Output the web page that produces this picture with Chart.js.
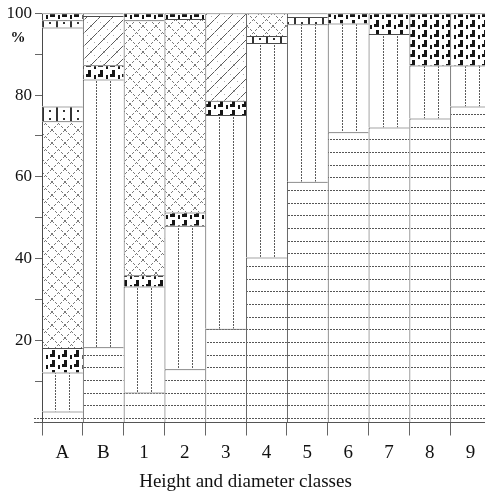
<!DOCTYPE html>
<html>
<head>
<meta charset="utf-8">
<script src="https://cdn.jsdelivr.net/npm/chart.js@4/dist/chart.umd.min.js"></script>
<style>
  html, body { margin: 0; padding: 0; background: #fff; overflow: hidden; }
  #wrap { width: 491px; height: 497px; position: relative; }
</style>
</head>
<body>
<div id="wrap"><canvas id="c"></canvas></div>
<script>
// Height and diameter classes on the x axis
const classes = ['A', 'B', '1', '2', '3', '4', '5', '6', '7', '8', '9'];

// Percentage shares per class, listed from the bottom of each column upwards
const hLines     = [2.7, 18.4, 7.3, 13.0, 22.9, 40.3, 58.8, 70.9, 72.1, 74.3, 77.2];
const vLines     = [9.5, 65.4, 25.9, 35.1, 52.2, 52.4, 38.5, 26.6, 22.8, 12.9, 10.0];
const hooksLow   = [6.0, 3.5, 2.8, 3.2, 3.5, null, null, null, null, null, null];
const crossLow   = [55.4, null, 62.3, 47.3, null, null, null, null, null, null, null];
const diagonal   = [null, 12.0, null, null, 21.4, null, null, null, null, null, null];
const squaresLow = [3.6, null, null, null, null, 1.7, 1.8, null, null, null, null];
const blank      = [19.3, 0.7, null, null, null, null, 0.9, null, null, null, null];
const squaresTop = [1.8, null, null, null, null, null, null, null, null, null, null];
const crossTop   = [null, null, null, null, null, 5.6, null, null, null, null, null];
const hooksTop   = [1.7, null, 1.7, 1.4, null, null, null, 2.5, 5.1, 12.8, 12.8];

// y axis ticks
const yMin = 0, yMax = 100, yStep = 10, yLabelStep = 20;

const SERIF = "'Liberation Serif', 'DejaVu Serif', serif";

function makeTile(w, h, draw) {
  const cv = document.createElement('canvas');
  cv.width = w; cv.height = h;
  const g = cv.getContext('2d');
  g.fillStyle = '#fff';
  g.fillRect(0, 0, w, h);
  draw(g);
  return document.createElement('canvas').getContext('2d').createPattern(cv, 'repeat');
}

// dotted horizontal rules
const patH = makeTile(3, 38, g => {
  g.fillStyle = '#555';
  [0, 13, 25].forEach(y => g.fillRect(0, y, 2, 1));
});
// dotted vertical rules
const patV = makeTile(41, 3, g => {
  g.fillStyle = '#5a5a5a';
  [14, 28].forEach(x => g.fillRect(x, 0, 1, 2));
});
// dotted cross hatching
const patX = makeTile(13, 13, g => {
  g.fillStyle = '#7a7a7a';
  for (let i = 0; i < 13; i++) {
    if (i % 3 === 2) continue;
    g.fillRect(i, i, 1, 1);
    g.fillRect(12 - i, i, 1, 1);
  }
});
// single diagonal hatching with faint back-dots
const patD = makeTile(13, 13, g => {
  g.fillStyle = '#5a5a5a';
  for (let i = 0; i < 13; i++) g.fillRect(12 - i, i, 1, 1);
  g.fillStyle = '#b0b0b0';
  for (let i = 0; i < 13; i += 3) g.fillRect(i, i, 1, 1);
});
// black staggered hooks
const patK = makeTile(12, 10, g => {
  g.fillStyle = '#151515';
  g.fillRect(4, 0, 3, 5);
  g.fillRect(2, 4, 5, 3);
  g.fillRect(10, 5, 2, 4);
});
// small open squares
const patS = makeTile(14, 8, g => {
  g.fillStyle = '#333';
  g.fillRect(0, 0, 2, 8);
  g.fillRect(7, 6, 2, 2);
});

function layer(label, data, fill) {
  return {
    label, data,
    backgroundColor: fill,
    borderColor: '#4a4a4a',
    borderWidth: { left: 1, top: 1, right: 0, bottom: 0 },
    borderSkipped: false,
    inflateAmount: 0,
    categoryPercentage: 1.0,
    barPercentage: 1.0
  };
}

const extras = {
  id: 'extras',
  afterDraw(chart) {
    const ctx = chart.ctx;
    const ca = chart.chartArea;
    const y = chart.scales.y;
    ctx.save();
    // baseline rules running a little past the left edge
    ctx.strokeStyle = '#555';
    ctx.lineWidth = 1;
    ctx.setLineDash([2, 1]);
    ctx.beginPath();
    ctx.moveTo(ca.left - 8, Math.round(ca.bottom) - 0.5);
    ctx.lineTo(ca.right, Math.round(ca.bottom) - 0.5);
    ctx.moveTo(ca.left - 8, Math.round(ca.bottom) - 4.5);
    ctx.lineTo(ca.left, Math.round(ca.bottom) - 4.5);
    ctx.stroke();
    ctx.setLineDash([]);
    // unit sign under the top tick label
    ctx.fillStyle = '#111';
    ctx.font = 'bold 15px ' + SERIF;
    ctx.textAlign = 'center';
    ctx.textBaseline = 'middle';
    ctx.fillText('%', 18, y.getPixelForValue(94));
    ctx.restore();
  }
};

new Chart(document.getElementById('c'), {
  type: 'bar',
  data: {
    labels: classes,
    datasets: [
      layer('h', hLines, patH),
      layer('v', vLines, patV),
      layer('k1', hooksLow, patK),
      layer('x1', crossLow, patX),
      layer('d', diagonal, patD),
      layer('s1', squaresLow, patS),
      layer('w', blank, '#fff'),
      layer('s2', squaresTop, patS),
      layer('x2', crossTop, patX),
      layer('k2', hooksTop, patK)
    ]
  },
  options: {
    responsive: true,
    maintainAspectRatio: false,
    animation: false,
    devicePixelRatio: 1,
    layout: { padding: { top: 9, right: 0, bottom: 0, left: 0 } },
    plugins: {
      legend: { display: false },
      tooltip: { enabled: false },
      title: {
        display: true,
        position: 'bottom',
        text: 'Height and diameter classes',
        color: '#111',
        font: { family: SERIF, size: 19, weight: 'normal', lineHeight: 1.2 },
        padding: { top: 0, bottom: 4 }
      }
    },
    scales: {
      x: {
        stacked: true,
        offset: true,
        afterFit(s) { s.height = 47.7; },
        grid: {
          offset: true,
          drawOnChartArea: false,
          drawTicks: true,
          tickLength: 13,
          color: '#666'
        },
        border: { display: true, color: '#555' },
        ticks: {
          color: '#111',
          padding: 6,
          maxRotation: 0,
          font: { family: SERIF, size: 19 }
        }
      },
      y: {
        stacked: true,
        min: yMin,
        max: yMax,
        afterFit(s) { s.width = 42; },
        grid: {
          drawOnChartArea: false,
          drawTicks: true,
          tickLength: 7,
          color: '#666'
        },
        border: { display: false },
        ticks: {
          stepSize: yStep,
          color: '#111',
          padding: 3,
          font: { family: SERIF, size: 17 },
          callback: v => (v > 0 && v % yLabelStep === 0) ? String(v) : ''
        }
      }
    }
  },
  plugins: [extras]
});
</script>
</body>
</html>
